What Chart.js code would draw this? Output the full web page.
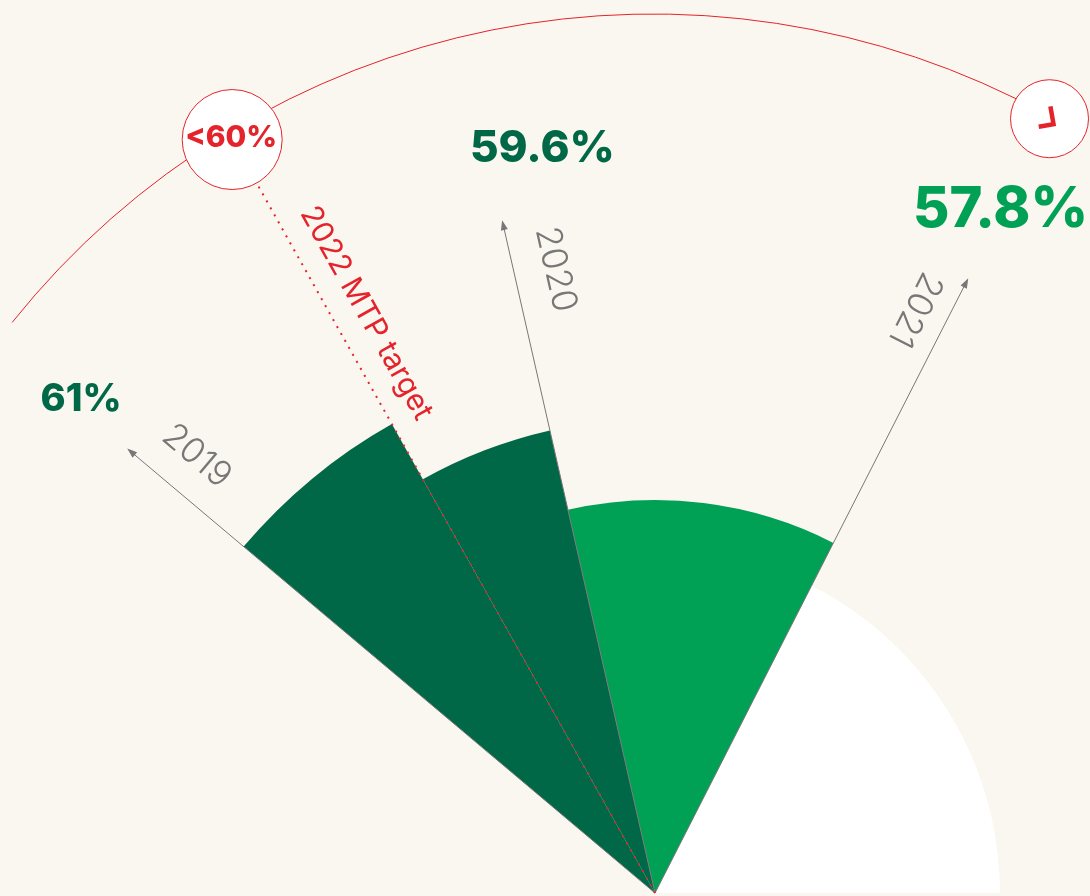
<!DOCTYPE html>
<html><head><meta charset="utf-8">
<script src="https://cdn.jsdelivr.net/npm/chart.js@4/dist/chart.umd.min.js"></script>
<style>
html,body{margin:0;padding:0;width:1090px;height:896px;overflow:hidden;background:#faf6f0;}
canvas{position:absolute;left:0;top:0;display:block}
</style></head><body>
<canvas id="c" width="1310" height="1786"></canvas>
<script>
// ---- data ----
const years = ['2019', '2020', '2021'];
const shareValues = [61, 59.6, 57.8];
const valueLabels = ['61%', '59.6%', '57.8%'];
const sweepDeg = [20.6, 16.5, 39.8];
const targetLabel = '2022 MTP target';
const targetValueLabel = '<60%';

// ---- styles ----
const DARK = '#006847', BRIGHT = '#00a055', RED = '#e4232b', GREY = '#777777';
const sliceColors = [DARK, DARK, BRIGHT];
const valueColors = [DARK, DARK, BRIGHT];
const valueFontSize = [38, 44, 56];
const valueLabelDelta = [0.6, 4.2, -0.15];   // deg offset from axis
const valueLabelR = [757, 753, 765];
const yearLabelR = [632, 630, 638];
const yearLabelOff = [39, 41, -33];
const rad = d => d * Math.PI / 180;

function rotText(ctx, text, x, y, rot, font, color) {
  ctx.save();
  ctx.translate(x, y); ctx.rotate(rot);
  ctx.font = font; ctx.fillStyle = color;
  ctx.textAlign = 'center'; ctx.textBaseline = 'middle';
  ctx.fillText(text, 0, 0);
  ctx.restore();
}

const decoPlugin = {
  id: 'deco',
  beforeDatasetsDraw(chart) {
    const s = chart.scales.r, ctx = chart.ctx;
    const cx = s.xCenter, cy = s.yCenter;
    const arcs = chart.getDatasetMeta(0).data;
    ctx.save();
    ctx.fillStyle = '#ffffff';
    ctx.beginPath();
    ctx.moveTo(cx, cy);
    ctx.arc(cx, cy, 345, arcs[arcs.length - 1].startAngle, Math.PI * 2);
    ctx.closePath();
    ctx.fill();
    ctx.restore();
  },
  afterDatasetsDraw(chart) {
    const s = chart.scales.r, ctx = chart.ctx;
    const cx = s.xCenter, cy = s.yCenter;
    const arcs = chart.getDatasetMeta(0).data;
    const axisAngles = [arcs[0].startAngle, arcs[1].endAngle, arcs[2].endAngle];
    const targetAngle = arcs[0].endAngle;
    ctx.save();

    // grey axis arrows
    const L = 688;
    axisAngles.forEach(a => {
      const ex = cx + L * Math.cos(a), ey = cy + L * Math.sin(a);
      ctx.strokeStyle = GREY; ctx.lineWidth = 1;
      ctx.beginPath(); ctx.moveTo(cx, cy); ctx.lineTo(ex, ey); ctx.stroke();
      const ux = Math.cos(a), uy = Math.sin(a), px = -uy, py = ux;
      ctx.fillStyle = GREY;
      ctx.beginPath();
      ctx.moveTo(ex + ux * 2, ey + uy * 2);
      ctx.lineTo(ex - ux * 8 + px * 3.5, ey - uy * 8 + py * 3.5);
      ctx.lineTo(ex - ux * 8 - px * 3.5, ey - uy * 8 - py * 3.5);
      ctx.closePath(); ctx.fill();
    });

    // dotted target line
    const targetR = 864, targetCircleR = 50;
    ctx.strokeStyle = RED; ctx.lineWidth = 2;
    ctx.setLineDash([2, 6]);
    ctx.beginPath();
    ctx.moveTo(cx, cy);
    ctx.lineTo(cx + (targetR - targetCircleR) * Math.cos(targetAngle), cy + (targetR - targetCircleR) * Math.sin(targetAngle));
    ctx.stroke();
    ctx.setLineDash([]);

    // big red arc
    ctx.strokeStyle = RED; ctx.lineWidth = 1;
    ctx.beginPath();
    ctx.arc(cx - 2, cy - 59, 820, rad(-141.4), rad(-61.3));
    ctx.stroke();

    // target circle
    const tx = cx + targetR * Math.cos(targetAngle), ty = cy + targetR * Math.sin(targetAngle);
    ctx.fillStyle = '#ffffff'; ctx.strokeStyle = RED; ctx.lineWidth = 1;
    ctx.beginPath(); ctx.arc(tx, ty, targetCircleR, 0, Math.PI * 2); ctx.fill(); ctx.stroke();
    ctx.font = '800 30px Inter'; ctx.fillStyle = RED;
    ctx.textAlign = 'center'; ctx.textBaseline = 'middle';
    ctx.fillText(targetValueLabel, tx - 1, ty - 2);

    // arrow circle at 2021 direction
    const a3 = axisAngles[2], R3 = 869;
    const ox = cx + R3 * Math.cos(a3), oy = cy + R3 * Math.sin(a3);
    ctx.fillStyle = '#ffffff'; ctx.strokeStyle = RED; ctx.lineWidth = 1;
    ctx.beginPath(); ctx.arc(ox, oy, 39, 0, Math.PI * 2); ctx.fill(); ctx.stroke();
    ctx.save();
    ctx.translate(ox, oy); ctx.rotate(rad(-10));
    ctx.strokeStyle = RED; ctx.lineWidth = 4.5; ctx.lineJoin = 'miter'; ctx.lineCap = 'butt';
    ctx.beginPath(); ctx.moveTo(3, -12); ctx.lineTo(3, 6); ctx.lineTo(-12, 6); ctx.stroke();
    ctx.restore();

    // target label
    {
      const a = targetAngle, r = 647, off = 32;
      const x = cx + r * Math.cos(a) - off * Math.sin(a);
      const y = cy + r * Math.sin(a) + off * Math.cos(a);
      rotText(ctx, targetLabel, x, y, a + Math.PI, '400 30px Inter', RED);
    }

    // year labels
    axisAngles.forEach((a, i) => {
      const r = yearLabelR[i], off = yearLabelOff[i];
      const x = cx + r * Math.cos(a) - off * Math.sin(a);
      const y = cy + r * Math.sin(a) + off * Math.cos(a);
      rotText(ctx, years[i], x, y, a + Math.PI, '300 35px Inter', GREY);
    });

    // value labels
    axisAngles.forEach((a0, i) => {
      const a = a0 + rad(valueLabelDelta[i]), r = valueLabelR[i];
      const x = cx + r * Math.cos(a), y = cy + r * Math.sin(a);
      rotText(ctx, valueLabels[i], x, y, 0, '800 ' + valueFontSize[i] + 'px Inter', valueColors[i]);
    });
    ctx.restore();
  }
};

new Chart(document.getElementById('c'), {
  type: 'polarArea',
  data: {
    labels: years,
    datasets: [{
      data: shareValues,
      backgroundColor: sliceColors,
      borderWidth: 0,
      angle: (c) => sweepDeg[c.dataIndex]
    }]
  },
  options: {
    responsive: false,
    animation: false,
    devicePixelRatio: 1,
    layout: { padding: 0 },
    plugins: { legend: { display: false }, tooltip: { enabled: false } },
    scales: {
      r: {
        min: 49.12, max: 63.59,
        startAngle: -49.9,
        grid: { display: false },
        angleLines: { display: false },
        ticks: { display: false },
        pointLabels: { display: false }
      }
    }
  },
  plugins: [decoPlugin]
});
</script>
</body></html>
